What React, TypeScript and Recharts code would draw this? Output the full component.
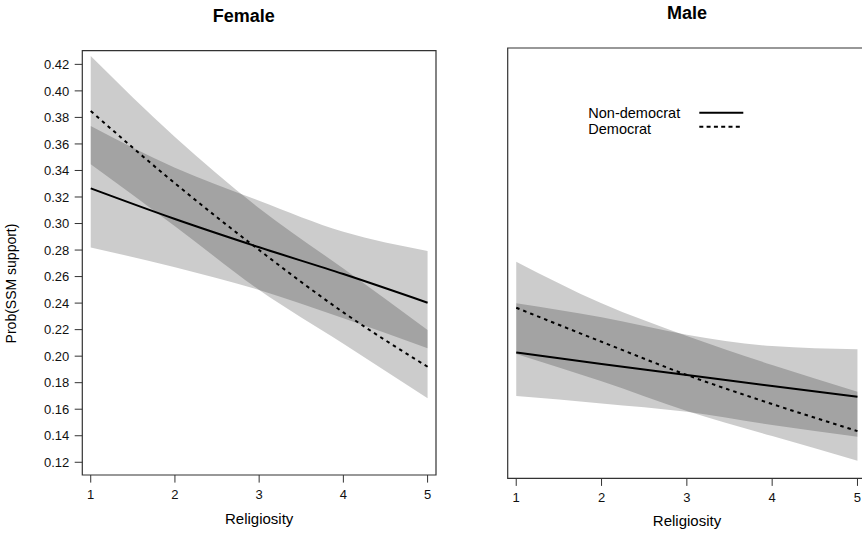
import { ComposedChart, Area, Line, XAxis, YAxis, ReferenceArea } from "recharts";

const religiosity = [1, 2, 3, 4, 5];

// Female panel
const femaleNonDem = [0.3265, 0.3034, 0.2821, 0.2619, 0.2403];
const femaleNonDemLo = [0.282, 0.267, 0.2499, 0.2285, 0.2059];
const femaleNonDemHi = [0.3735, 0.3421, 0.3172, 0.2938, 0.2793];
const femaleDem = [0.3848, 0.3303, 0.28, 0.233, 0.192];
const femaleDemLo = [0.3446, 0.298, 0.2499, 0.2094, 0.1682];
const femaleDemHi = [0.4263, 0.3652, 0.3115, 0.266, 0.2197];

// Male panel
const maleNonDem = [0.204, 0.1954, 0.1872, 0.179, 0.171];
const maleNonDemLo = [0.1716, 0.1661, 0.1599, 0.15, 0.1413];
const maleNonDemHi = [0.2405, 0.2301, 0.2172, 0.2087, 0.2063];
const maleDem = [0.2372, 0.2119, 0.1872, 0.1656, 0.1455];
const maleDemLo = [0.2028, 0.1825, 0.1604, 0.1418, 0.1235];
const maleDemHi = [0.2714, 0.2405, 0.2162, 0.1946, 0.1748];

const xTicks = [1, 2, 3, 4, 5];
const yTicks = [0.12, 0.14, 0.16, 0.18, 0.2, 0.22, 0.24, 0.26, 0.28, 0.3, 0.32, 0.34, 0.36, 0.38, 0.4, 0.42];

const X_DOMAIN: [number, number] = [0.9, 5.1];
const Y_DOMAIN: [number, number] = [0.1104, 0.4303];
const FONT = "'Liberation Sans', Arial, Helvetica, sans-serif";

function buildRows(nd: number[], ndLo: number[], ndHi: number[], d: number[], dLo: number[], dHi: number[]) {
  return religiosity.map((x, i) => ({
    x,
    nd: nd[i],
    ndBand: [ndLo[i], ndHi[i]],
    d: d[i],
    dBand: [dLo[i], dHi[i]],
  }));
}

const femaleRows = buildRows(femaleNonDem, femaleNonDemLo, femaleNonDemHi, femaleDem, femaleDemLo, femaleDemHi);
const maleRows = buildRows(maleNonDem, maleNonDemLo, maleNonDemHi, maleDem, maleDemLo, maleDemHi);

const tickStyle = { fontSize: 13, fill: "#111", fontFamily: FONT };

function Panel({ rows, showY, margin, xHeight }: { rows: any[]; showY: boolean; margin: any; xHeight: number }) {
  return (
    <ComposedChart width={440} height={534} data={rows} margin={margin}>
      <XAxis
        type="number"
        dataKey="x"
        domain={X_DOMAIN}
        ticks={xTicks}
        allowDataOverflow
        axisLine={false}
        tickSize={7.6}
        tickMargin={7}
        height={xHeight}
        tick={tickStyle}
        tickLine={{ stroke: "#333" }}
      />
      <YAxis
        type="number"
        domain={Y_DOMAIN}
        ticks={yTicks}
        allowDataOverflow
        hide={!showY}
        width={82}
        axisLine={false}
        tickSize={7.6}
        tickMargin={5.4}
        tick={tickStyle}
        tickLine={{ stroke: "#333" }}
        tickFormatter={(v: number) => v.toFixed(2)}
      />
      <Area dataKey="ndBand" type="monotone" fill="#000" fillOpacity={0.2} stroke="none" isAnimationActive={false} dot={false} activeDot={false} />
      <Area dataKey="dBand" type="monotone" fill="#000" fillOpacity={0.2} stroke="none" isAnimationActive={false} dot={false} activeDot={false} />
      <Line dataKey="nd" type="monotone" stroke="#000" strokeWidth={2} dot={false} activeDot={false} isAnimationActive={false} />
      <Line dataKey="d" type="monotone" stroke="#000" strokeWidth={2} strokeDasharray="3.5 4" dot={false} activeDot={false} isAnimationActive={false} />
      <ReferenceArea x1={X_DOMAIN[0]} x2={X_DOMAIN[1]} y1={Y_DOMAIN[0]} y2={Y_DOMAIN[1]} fill="none" stroke="#333" strokeWidth={1.2} ifOverflow="visible" />
    </ComposedChart>
  );
}

export default function App() {
  return (
    <div style={{ position: "absolute", left: 0, top: 0, width: 862, height: 534, overflow: "hidden", background: "#fff" }}>
      <div style={{ position: "absolute", left: 0, top: 0 }}>
        <Panel rows={femaleRows} showY margin={{ top: 50.7, right: 4, bottom: 0, left: 0.3 }} xHeight={59} />
      </div>
      <div style={{ position: "absolute", left: 440, top: 0 }}>
        <Panel rows={maleRows} showY={false} margin={{ top: 48, right: 14, bottom: 0, left: 67.7 }} xHeight={55.7} />
      </div>
      <svg width={862} height={534} style={{ position: "absolute", left: 0, top: 0, pointerEvents: "none" }} fontFamily={FONT}>
        <text x={243.8} y={22.3} textAnchor="middle" fontSize={18} fontWeight="bold">Female</text>
        <text x={687} y={19} textAnchor="middle" fontSize={18} fontWeight="bold">Male</text>
        <text x={259.2} y={524} textAnchor="middle" fontSize={15}>Religiosity</text>
        <text x={687} y={526} textAnchor="middle" fontSize={15}>Religiosity</text>
        <text x={16} y={283.5} textAnchor="middle" fontSize={14} transform="rotate(-90 16 283.5)">Prob(SSM support)</text>
        <text x={588.3} y={118} fontSize={14.5}>Non-democrat</text>
        <text x={588.3} y={133.5} fontSize={14.5}>Democrat</text>
        <line x1={699.3} x2={743.3} y1={112.7} y2={112.7} stroke="#000" strokeWidth={2} />
        <line x1={699.3} x2={741.5} y1={126.7} y2={126.7} stroke="#000" strokeWidth={2} strokeDasharray="4 3.3" />
      </svg>
    </div>
  );
}
